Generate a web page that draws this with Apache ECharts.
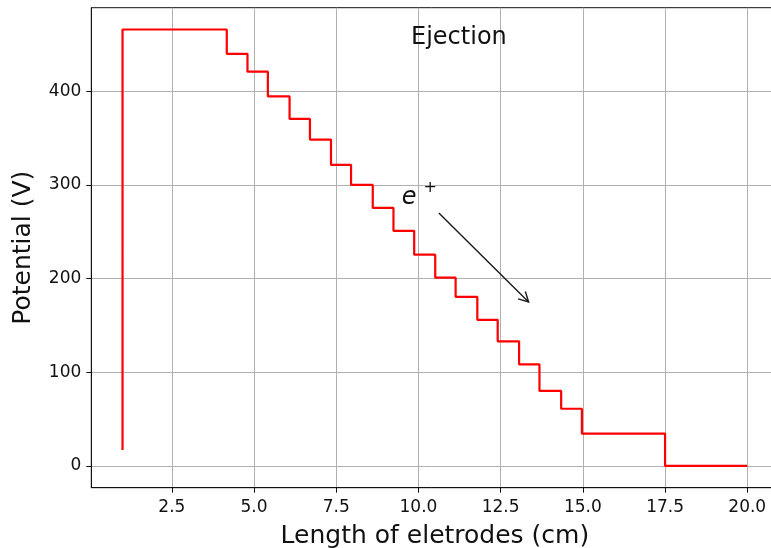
<!DOCTYPE html>
<html>
<head>
<meta charset="utf-8">
<script src="https://cdn.jsdelivr.net/npm/echarts@6/dist/echarts.min.js"></script>
<style>
html,body{margin:0;padding:0;background:#fff;}
#chart{width:771px;height:548px;}
</style>
</head>
<body>
<div id="chart"></div>
<script>
// ---- data ----
const startLevel = 17;
const edges  = [1.0, 4.17, 4.80, 5.42, 6.08, 6.70, 7.34, 7.95, 8.61, 9.24, 9.87, 10.51, 11.13, 11.79, 12.41, 13.06, 13.68, 14.34, 14.97, 17.50, 20.0];
const levels = [466, 440, 421, 394.5, 370.5, 348.5, 321.5, 300, 275.5, 251, 225.5, 201, 180.5, 156, 133, 108.5, 80, 61, 34.5, 0];
const xTicks = [2.5, 5.0, 7.5, 10.0, 12.5, 15.0, 17.5, 20.0];
const yTicks = [0, 100, 200, 300, 400];
const titleText = 'Ejection';
const titleAnchor = [11.23, 457];
const eAnchor = [9.72, 286];
const arrowFrom = [10.62, 270];
const arrowTo = [13.35, 175];

// build step polyline from edges & levels
const pts = [[edges[0], startLevel]];
for (let i = 0; i < levels.length; i++) {
  pts.push([edges[i], levels[i]]);
  pts.push([edges[i + 1], levels[i]]);
}

const FONT = 'DejaVu Sans';
const chart = echarts.init(document.getElementById('chart'), null, {renderer: 'canvas'});
const axisCommon = {
  axisLine: {show: true, onZero: false, lineStyle: {color: '#111', width: 1}},
  axisTick: {show: true, inside: false, length: 5, lineStyle: {color: '#111', width: 1}},
  splitLine: {show: true, lineStyle: {color: '#b0b0b0', width: 1}},
  nameTextStyle: {fontFamily: FONT, fontSize: 25, color: '#111'}
};
chart.setOption({
  animation: false,
  backgroundColor: '#fff',
  grid: {left: 91.3, right: -7.5, top: 7.7, bottom: 60.3, show: true, borderColor: '#111', borderWidth: 1,
         containLabel: false, outerBoundsMode: 'none'},
  xAxis: Object.assign({}, axisCommon, {
    type: 'value', min: 0.05, max: 20.95,
    name: 'Length of eletrodes (cm)', nameLocation: 'middle', nameGap: 36,
    axisTick: Object.assign({}, axisCommon.axisTick, {customValues: xTicks}),
    axisLabel: {customValues: xTicks, fontFamily: FONT, fontSize: 17, color: '#111', margin: 11,
      formatter: v => v.toFixed(1)},
  }),
  yAxis: Object.assign({}, axisCommon, {
    type: 'value', min: -23.3, max: 489.3,
    name: 'Potential (V)', nameLocation: 'middle', nameGap: 55,
    axisTick: Object.assign({}, axisCommon.axisTick, {customValues: yTicks}),
    axisLabel: {customValues: yTicks, fontFamily: FONT, fontSize: 17, color: '#111', margin: 10,
      formatter: v => String(Math.round(v))},
  }),
  series: [
    {
      type: 'line', data: pts, showSymbol: false, symbol: 'none',
      lineStyle: {color: '#ff0000', width: 2.2}, z: 3, clip: false
    },
    {
      type: 'custom', z: 4, clip: false,
      data: [[arrowFrom[0], arrowFrom[1], arrowTo[0], arrowTo[1]]],
      renderItem: function (params, api) {
        const p0 = api.coord([api.value(0), api.value(1)]);
        const p1 = api.coord([api.value(2), api.value(3)]);
        const dx = p1[0] - p0[0], dy = p1[1] - p0[1];
        const len = Math.sqrt(dx * dx + dy * dy);
        const ux = dx / len, uy = dy / len;
        const hl = 11, ang = 28 * Math.PI / 180;
        const c = Math.cos(ang), s = Math.sin(ang);
        const a = [p1[0] - hl * (ux * c - uy * s), p1[1] - hl * (uy * c + ux * s)];
        const b = [p1[0] - hl * (ux * c + uy * s), p1[1] - hl * (uy * c - ux * s)];
        return {type: 'group', children: [
          {type: 'line', shape: {x1: p0[0], y1: p0[1], x2: p1[0], y2: p1[1]}, style: {stroke: '#1a1a1a', lineWidth: 1.4}},
          {type: 'polyline', shape: {points: [a, p1, b]}, style: {stroke: '#1a1a1a', fill: null, lineWidth: 1.4}}
        ]};
      }
    },
    {
      type: 'custom', z: 5, clip: false,
      data: [[titleAnchor[0], titleAnchor[1]]],
      renderItem: function (params, api) {
        const p = api.coord([api.value(0), api.value(1)]);
        return {type: 'text', x: p[0], y: p[1], style: {text: titleText, font: '24px "DejaVu Sans"', fill: '#111', align: 'center', verticalAlign: 'middle'}};
      }
    },
    {
      type: 'custom', z: 5, clip: false,
      data: [[eAnchor[0], eAnchor[1]]],
      renderItem: function (params, api) {
        const p = api.coord([api.value(0), api.value(1)]);
        return {type: 'group', children: [
          {type: 'text', x: p[0], y: p[1], style: {text: 'e', font: 'italic 24px "DejaVu Sans"', fill: '#111', align: 'center', verticalAlign: 'middle'}},
          {type: 'text', x: p[0] + 21, y: p[1] - 10, style: {text: '+', font: '16px "DejaVu Sans"', fill: '#111', align: 'center', verticalAlign: 'middle'}}
        ]};
      }
    }
  ]
});
</script>
</body>
</html>
